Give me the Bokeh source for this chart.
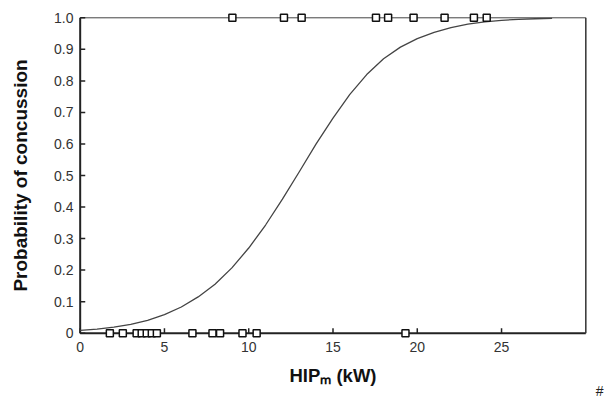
from bokeh.plotting import figure
from bokeh.models import FixedTicker, Range1d, Title, CustomJSTickFormatter
from bokeh.embed import file_html
from bokeh.resources import INLINE

# ---- data ----
concussed_x = [9.03, 12.09, 13.14, 17.55, 18.27, 19.78, 21.62, 23.36, 24.12]
concussed_y = [1.0] * len(concussed_x)
non_concussed_x = [1.76, 2.53, 3.35, 3.65, 3.95, 4.25, 4.55, 6.66, 7.85, 8.30, 9.63, 10.47, 19.30]
non_concussed_y = [0.0] * len(non_concussed_x)

curve_x = [0, 1, 2, 3, 4, 5, 6, 7, 8, 9, 10, 11, 12, 13, 14, 15, 16, 17, 18, 19,
           20, 21, 22, 23, 24, 25, 26, 27, 28]
curve_y = [0.009, 0.013, 0.019, 0.028, 0.041, 0.059, 0.083, 0.115, 0.155, 0.207,
           0.270, 0.343, 0.425, 0.512, 0.600, 0.682, 0.757, 0.820, 0.870, 0.907,
           0.934, 0.954, 0.969, 0.980, 0.987, 0.992, 0.995, 0.997, 0.998]

x_ticks = [0, 5, 10, 15, 20, 25]
y_ticks = [0, 0.1, 0.2, 0.3, 0.4, 0.5, 0.6, 0.7, 0.8, 0.9, 1.0]
X_MIN, X_MAX = 0, 30
Y_MIN, Y_MAX = 0, 1
X_TICK_LEN = 0.016   # tick length in y-data units (~5 px)
Y_TICK_LEN = 0.30    # tick length in x-data units (~5 px)

FONT = "Liberation Sans"

p = figure(width=608, height=397,
           x_range=Range1d(-0.1, 30.1), y_range=Range1d(-0.02, 1.02),
           toolbar_location=None, output_backend="svg",
           min_border_left=78, min_border_right=21,
           min_border_top=11, min_border_bottom=58)
p.outline_line_color = None
p.xgrid.visible = False
p.ygrid.visible = False

for ax in (p.xaxis[0], p.yaxis[0]):
    ax.axis_line_color = None
    ax.major_tick_line_color = None
    ax.minor_tick_line_color = None
    ax.major_tick_in = 0
    ax.major_tick_out = 0
    ax.major_label_text_font = FONT
    ax.major_label_text_font_size = "14px"
    ax.major_label_text_color = "#333333"
    ax.axis_label_text_font = FONT
    ax.axis_label_text_font_style = "bold"
    ax.axis_label_text_color = "#111111"

p.xaxis[0].ticker = FixedTicker(ticks=x_ticks)
p.xaxis[0].major_label_standoff = 2
p.xaxis[0].axis_label = "HIP\u2098 (kW)"
p.xaxis[0].axis_label_text_font_size = "18.5px"
p.xaxis[0].axis_label_standoff = 10

p.yaxis[0].ticker = FixedTicker(ticks=y_ticks)
p.yaxis[0].formatter = CustomJSTickFormatter(code="return tick == 0 ? '0' : tick.toFixed(1);")
p.yaxis[0].major_label_standoff = 5
p.yaxis[0].axis_label = "Probability of concussion"
p.yaxis[0].axis_label_text_font_size = "19px"
p.yaxis[0].axis_label_standoff = 20

# stray mark at the lower right corner of the reference
p.add_layout(Title(text="#", align="right", offset=-16, standoff=-16,
                   text_font=FONT, text_font_size="14px", text_font_style="normal",
                   text_color="#222222"), "below")

# frame lines
p.line([X_MIN, X_MIN], [Y_MIN, Y_MAX], line_width=2, line_color="#222222")
p.line([X_MIN, X_MAX], [Y_MIN, Y_MIN], line_width=2, line_color="#222222")
p.line([X_MIN, X_MAX], [Y_MAX, Y_MAX], line_width=1, line_color="#444444")
p.line([X_MAX, X_MAX], [Y_MIN, Y_MAX], line_width=1.5, line_color="#333333")

# inward tick marks
p.segment(x0=x_ticks, y0=[Y_MIN] * len(x_ticks), x1=x_ticks, y1=[Y_MIN + X_TICK_LEN] * len(x_ticks),
          line_width=1.5, line_color="#222222")
p.segment(x0=[X_MIN] * len(y_ticks), y0=y_ticks, x1=[X_MIN + Y_TICK_LEN] * len(y_ticks), y1=y_ticks,
          line_width=1.5, line_color="#222222")

# fitted curve
p.line(curve_x, curve_y, line_width=1.3, line_color="#444444")

# observations
p.scatter(concussed_x, concussed_y, marker="square", size=7,
          fill_color="white", line_color="#111111", line_width=1.5)
p.scatter(non_concussed_x, non_concussed_y, marker="square", size=7,
          fill_color="white", line_color="#111111", line_width=1.5)

open("out.html", "w").write(file_html(p, INLINE))
